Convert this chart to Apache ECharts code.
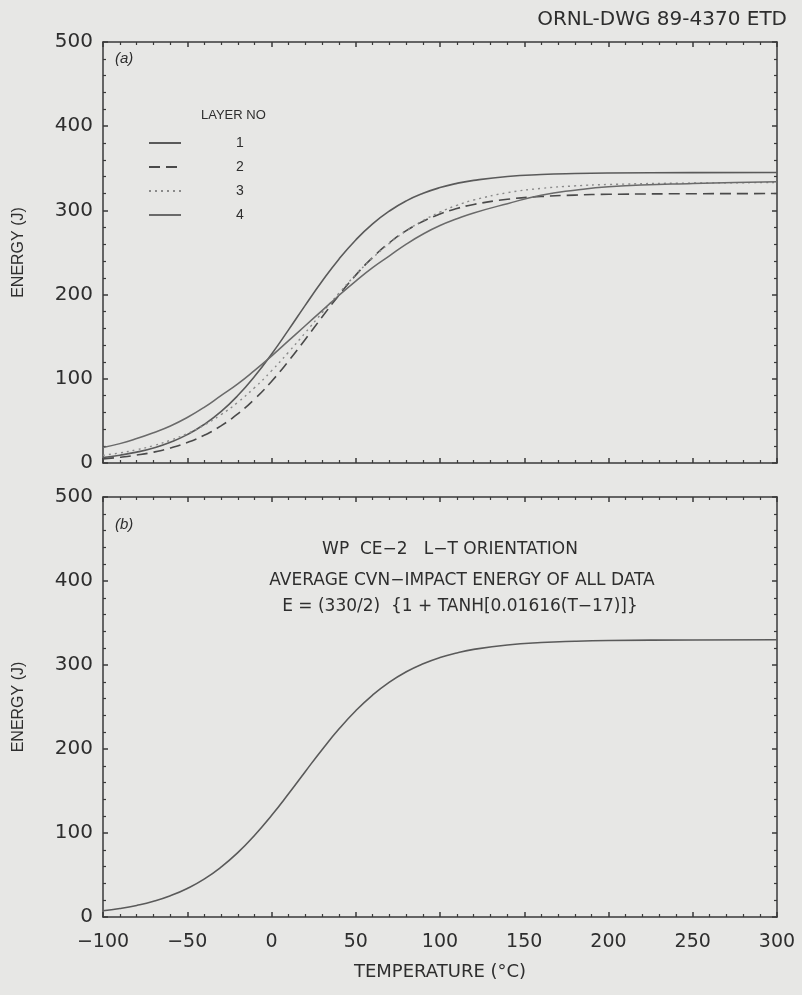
<!DOCTYPE html>
<html>
<head>
<meta charset="utf-8">
<script src="https://cdn.jsdelivr.net/npm/echarts@6/dist/echarts.min.js"></script>
<style>
html,body{margin:0;padding:0;background:#e7e7e5;}
#c{width:802px;height:995px;}
</style>
</head>
<body>
<div id="c"></div>
<script>
// Temperatures (°C) at which curves were read
var temps = [-100,-90,-80,-70,-60,-50,-40,-30,-20,-10,0,10,20,30,40,50,60,70,80,90,100,110,120,140,160,180,200,250,300];
// Panel (a): layer curves (J)
var layer1 = [6.6,9.3,12.9,17.9,24.7,33.7,45.7,61.0,80.1,103.0,129.2,157.8,187.2,215.8,242.1,264.9,284.0,299.3,311.3,320.3,327.1,332.1,335.7,340.3,342.6,343.8,344.4,344.9,345];
var layer2 = [4.9,6.8,9.4,12.9,17.8,24.3,32.9,44.1,58.4,76.0,96.9,120.8,146.7,173.3,199.2,223.1,244.0,261.6,275.9,287.1,295.7,302.2,307.1,313.2,316.5,318.2,319.1,319.8,320];
var layer3 = [9.1,12.0,15.8,20.7,27.0,35.0,45.0,57.3,72.1,89.6,109.4,131.4,154.6,178.4,201.6,223.6,243.4,260.9,275.7,288.0,298.0,306.0,312.3,321.0,326.1,329.1,330.8,332.5,333];
var layer4 = [18.5,23,29,36,44,54,66,80,94,110,127,145,163,181,199,216,232,246,260,272,282,290,297,308,318,324,328,332,334];
// Panel (b): average curve (J)
var average = [7.4,10.1,13.8,18.7,25.3,34.0,45.1,59.3,76.6,97.3,120.8,146.4,173.0,199.2,223.7,245.5,264.2,279.6,291.9,301.5,308.9,314.4,318.6,323.9,326.8,328.3,329.1,329.8,330];
var layerNames = ['1','2','3','4'];
var xTicks = [-100,-50,0,50,100,150,200,250,300];
var yTicks = [0,100,200,300,400,500];

function pts(v){ return temps.map(function(t,i){ return [t, v[i]]; }); }

var FONT = "'Liberation Sans',Arial,sans-serif";
var WIDE = "'DejaVu Sans','Liberation Sans',sans-serif";
var AX = '#3a3a3a';
var TXT = '#2e2e2e';

function xAx(grid, pos, labels){
  return {
    type:'value', gridIndex:grid, position:pos, min:-100, max:300, interval:50,
    axisLine:{show:true, onZero:false, lineStyle:{color:AX, width:1.5}},
    axisTick:{show:true, inside:true, length:5, lineStyle:{color:AX, width:1.5}},
    minorTick:{show:true, splitNumber:5, length:3, lineStyle:{color:AX, width:1.2}},
    splitLine:{show:false},
    axisLabel:{show:labels, margin:16, color:TXT, fontFamily:WIDE, fontSize:19,
      formatter:function(v){ return String(v).replace('-', '\u2212'); }},
    name: (labels ? 'TEMPERATURE (\u00B0C)' : ''), nameLocation:'middle', nameGap:46,
    nameTextStyle:{color:TXT, fontFamily:WIDE, fontSize:18}
  };
}
function yAx(grid, pos, labels){
  return {
    type:'value', gridIndex:grid, position:pos, min:0, max:500, interval:100,
    axisLine:{show:true, onZero:false, lineStyle:{color:AX, width:1.5}},
    axisTick:{show:true, inside:true, length:5, lineStyle:{color:AX, width:1.5}},
    minorTick:{show:true, splitNumber:5, length:3, lineStyle:{color:AX, width:1.2}},
    splitLine:{show:false},
    axisLabel:{show:labels, margin:10, color:TXT, fontFamily:WIDE, fontSize:20},
    name: (labels ? 'ENERGY (J)' : ''), nameLocation:'middle', nameGap:76, nameRotate:90,
    nameTextStyle:{color:TXT, fontFamily:FONT, fontSize:16}
  };
}

var chart = echarts.init(document.getElementById('c'), null, {renderer:'canvas'});
var styles = [
  {color:'#5a5a5a', width:1.6, type:'solid'},
  {color:'#4a4a4a', width:1.6, type:[11,6]},
  {color:'#8a8a8a', width:1.4, type:[2,4]},
  {color:'#6a6a6a', width:1.5, type:'solid'}
];
var layers = [layer1, layer2, layer3, layer4];
var series = layers.map(function(v, i){
  return {
    name: layerNames[i], type:'line', xAxisIndex:0, yAxisIndex:0,
    data: pts(v), smooth:true, showSymbol:false, symbol:'none',
    lineStyle: styles[i], itemStyle:{color: styles[i].color}
  };
});
series.push({
  name:'avg', type:'line', xAxisIndex:2, yAxisIndex:2,
  data: pts(average), smooth:true, showSymbol:false, symbol:'none',
  lineStyle:{color:'#5a5a5a', width:1.6}, itemStyle:{color:'#5a5a5a'}
});

chart.setOption({
  backgroundColor:'#e7e7e5',
  animation:false,
  textStyle:{fontFamily:FONT},
  title:[
    {text:'ORNL-DWG 89-4370 ETD', right:10, top:5, textStyle:{fontFamily:WIDE, fontSize:20, fontWeight:'normal', color:TXT}},
    {text:'(a)', left:110, top:46, textStyle:{fontFamily:FONT, fontSize:15, fontStyle:'italic', fontWeight:'normal', color:TXT}},
    {text:'LAYER NO', left:196, top:104, textStyle:{fontFamily:FONT, fontSize:13, fontWeight:'normal', color:TXT}},
    {text:'(b)', left:110, top:512, textStyle:{fontFamily:FONT, fontSize:15, fontStyle:'italic', fontWeight:'normal', color:TXT}},
    {text:'WP  CE\u22122   L\u2212T ORIENTATION', left:445, textAlign:'center', top:536, textStyle:{fontFamily:WIDE, fontSize:17, fontWeight:'normal', color:TXT}},
    {text:'AVERAGE CVN\u2212IMPACT ENERGY OF ALL DATA', left:457, textAlign:'center', top:567, textStyle:{fontFamily:WIDE, fontSize:17, fontWeight:'normal', color:TXT}},
    {text:'E = (330/2)  {1 + TANH[0.01616(T\u221217)]}', left:455, textAlign:'center', top:593, textStyle:{fontFamily:WIDE, fontSize:17, fontWeight:'normal', color:TXT}}
  ],
  legend:{
    data: layerNames, orient:'vertical', left:143, top:131, itemWidth:32, itemHeight:10, itemGap:10,
    itemStyle:{opacity:0},
    textStyle:{fontFamily:FONT, fontSize:14, color:TXT, padding:[0,0,0,50]},
    selectedMode:false
  },
  grid:[
    {left:103, top:42, width:674, height:421},
    {left:103, top:497, width:674, height:420}
  ],
  xAxis:[xAx(0,'bottom',false), xAx(0,'top',false), xAx(1,'bottom',true), xAx(1,'top',false)],
  yAxis:[yAx(0,'left',true), yAx(0,'right',false), yAx(1,'left',true), yAx(1,'right',false)],
  series: series
});
</script>
</body>
</html>
